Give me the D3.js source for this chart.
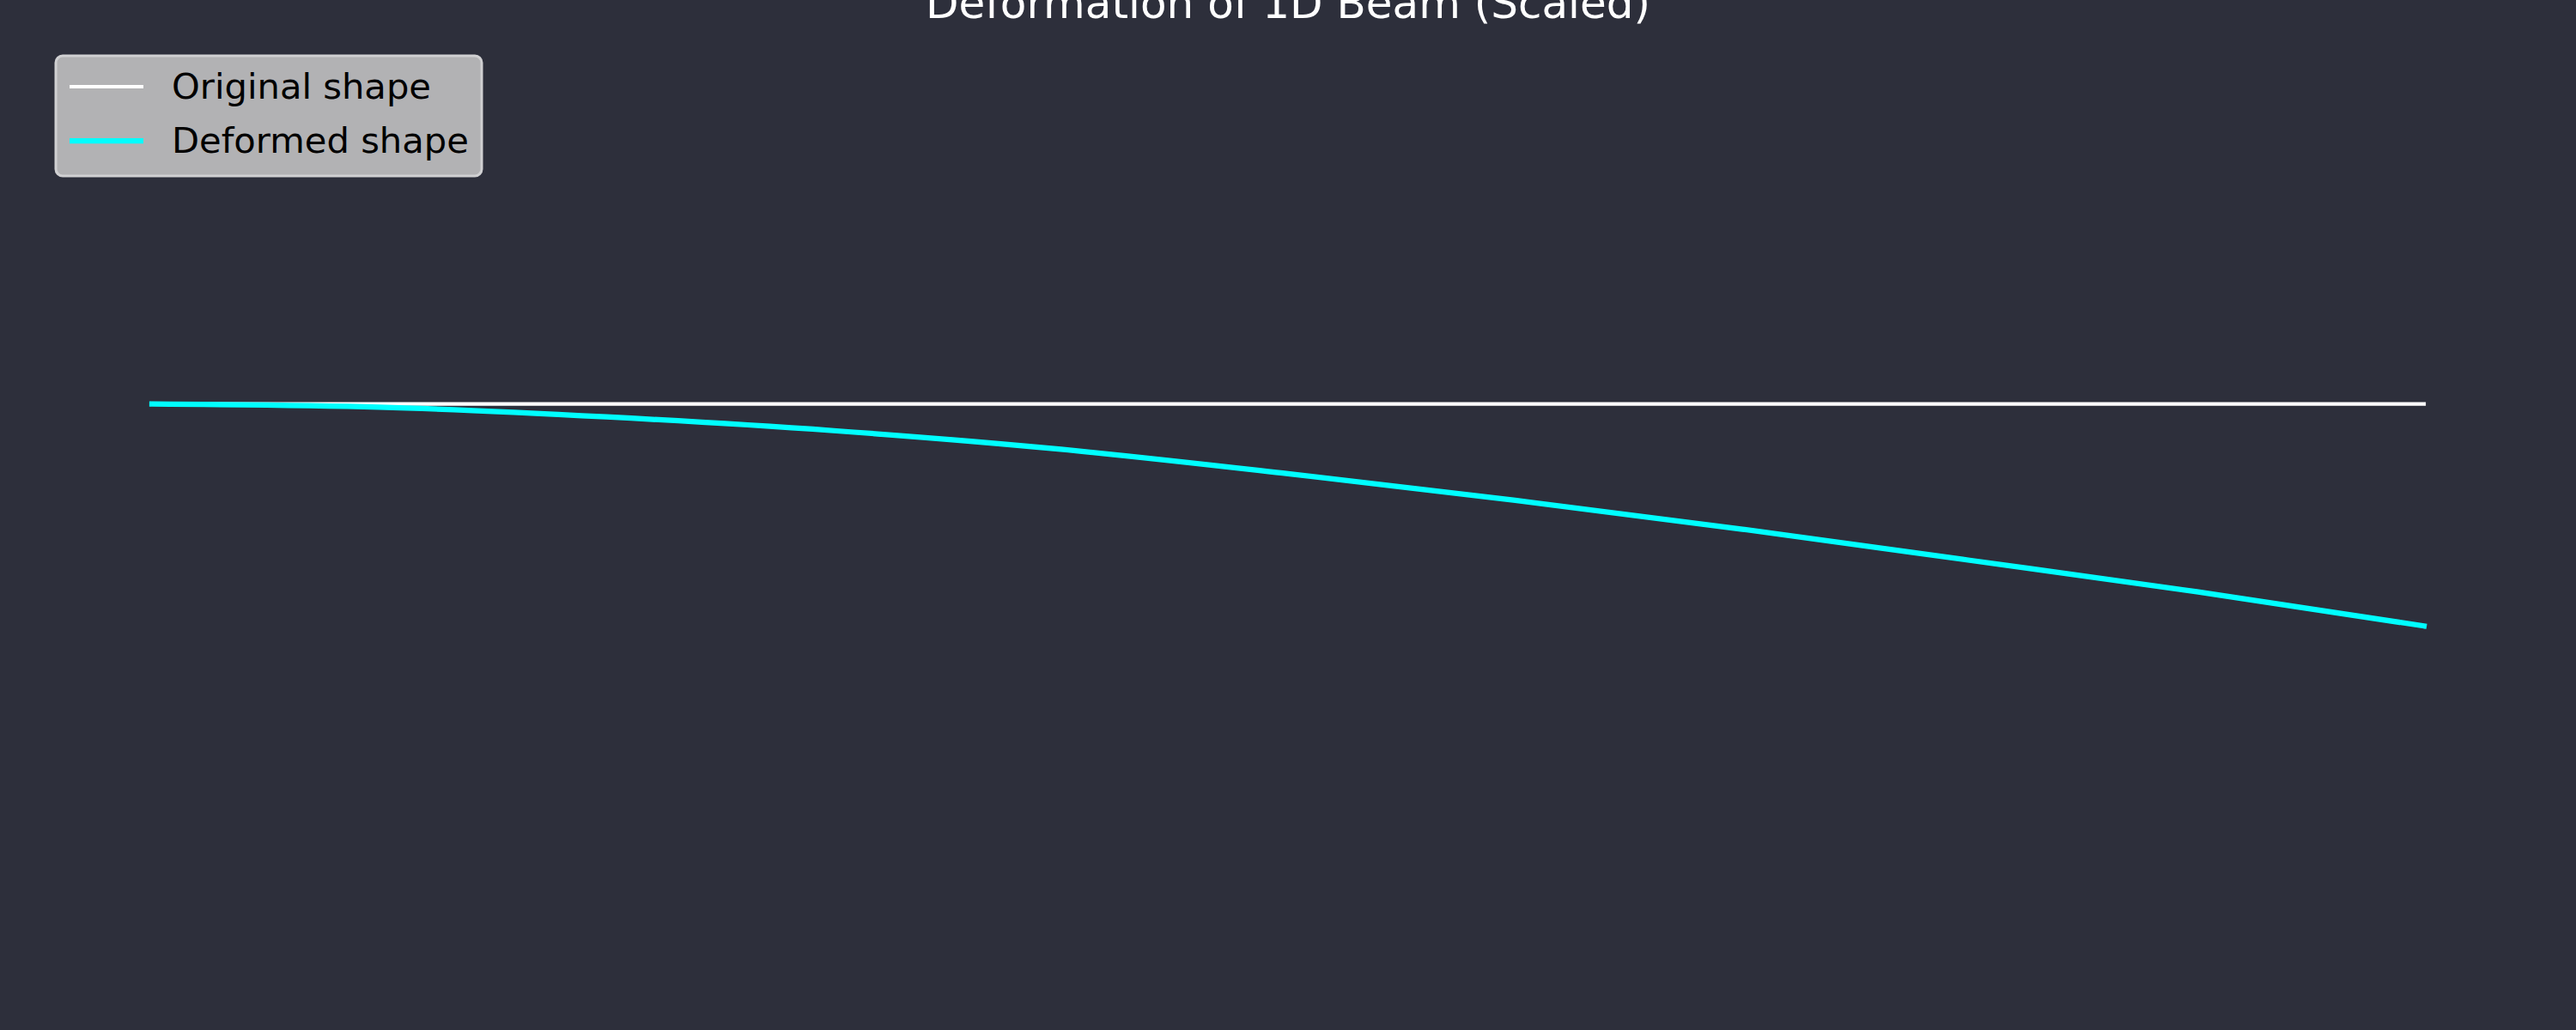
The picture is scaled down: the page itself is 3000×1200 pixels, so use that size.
<!DOCTYPE html>
<html>
<head>
<meta charset="utf-8">
<script src="https://cdn.jsdelivr.net/npm/d3@7"></script>
<style>
  html, body { margin: 0; padding: 0; background: #2d2f3b; }
  #svg-container { width: 3000px; height: 1200px; }
  text { font-family: "DejaVu Sans", sans-serif; }
</style>
</head>
<body>
<div id="svg-container"></div>
<script>
// positie langs de balk (m)
const positions = [0, 1, 2, 3, 4, 5, 6, 7, 8, 9, 10]
// oorspronkelijke vorm: recht
const originalY = [0, 0, 0, 0, 0, 0, 0, 0, 0, 0, 0]
const deformedY = [0, -0.007, -0.029, -0.060, -0.102, -0.157, -0.217, -0.282, -0.352, -0.423, -0.500]

const seriesNames = ['Original shape', 'Deformed shape']
const seriesColors = ['#ffffff', '#00ffff']
const seriesWidths = [4.2, 6.25]
const titleText = 'Deformation of 1D Beam (Scaled)'

const width = 3000
const height = 1200

const svg = d3.select('#svg-container')
    .append('svg').attr('width', width).attr('height', height)

svg.append('rect')
    .attr('width', width).attr('height', height)
    .attr('fill', '#2d2f3b')

//schalen (assen zijn uit)
const xScale = d3.scaleLinear()
    .domain([0, 10])
    .range([177, 2823])
const yScale = d3.scaleLinear()
    .domain([-1.3, 0.8])
    .range([1143, 57])

const line = d3.line()
    .x(d => xScale(d.x))
    .y(d => yScale(d.y))
    .curve(d3.curveMonotoneX)

const series = [originalY, deformedY].map((ys, i) => ({
    name: seriesNames[i],
    color: seriesColors[i],
    width: seriesWidths[i],
    values: positions.map((x, j) => ({ x: x, y: ys[j] }))
}))

const g = svg.append('g')

g.selectAll('path.series')
    .data(series)
    .enter().append('path')
    .attr('class', 'series')
    .attr('d', d => line(d.values))
    .attr('fill', 'none')
    .attr('stroke', d => d.color)
    .attr('stroke-width', d => d.width)
    .attr('stroke-linecap', 'square')
    .attr('stroke-linejoin', 'round')

//titel
svg.append('text')
    .attr('x', 1500)
    .attr('y', 21)
    .attr('text-anchor', 'middle')
    .attr('fill', '#ffffff')
    .attr('font-size', 50)
    .text(titleText)

//legenda
const legend = svg.append('g').attr('transform', 'translate(65, 65)')
legend.append('rect')
    .attr('x', 0).attr('y', 0)
    .attr('width', 496).attr('height', 140)
    .attr('rx', 8).attr('ry', 8)
    .attr('fill', '#b2b2b4')
    .attr('stroke', '#d0d0d2')
    .attr('stroke-width', 3)

const items = legend.selectAll('g.item')
    .data(series)
    .enter().append('g')
    .attr('class', 'item')
    .attr('transform', (d, i) => `translate(0, ${36 + i * 63})`)

items.append('line')
    .attr('x1', 16).attr('x2', 102)
    .attr('y1', 0).attr('y2', 0)
    .attr('stroke', d => d.color)
    .attr('stroke-width', d => d.width)

items.append('text')
    .attr('x', 135)
    .attr('y', 14)
    .attr('font-size', 41.67)
    .attr('fill', '#000000')
    .text(d => d.name)
</script>
</body>
</html>
